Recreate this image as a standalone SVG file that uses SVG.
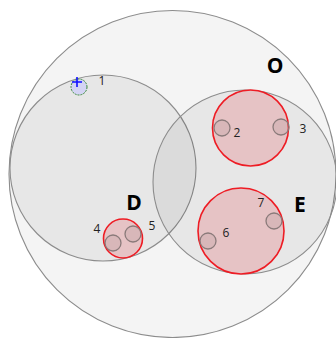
<svg xmlns="http://www.w3.org/2000/svg" width="336" height="338" viewBox="0 0 336 338">
<style>
.set{fill:#000;fill-opacity:0.05;stroke:#8c8c8c;stroke-width:1.1}
.outer{fill:#f4f4f4;stroke:#8c8c8c;stroke-width:1.1}
.red{fill:#e6c3c5;stroke:#ee1c24;stroke-width:1.6}
.sm{fill:#000;fill-opacity:0.06;stroke:#8a7a7a;stroke-width:1.3}
.num{font-family:"Open Sans","Liberation Sans",sans-serif;font-size:12px;fill:#222}
.big{font-family:"Open Sans","Liberation Sans",sans-serif;font-size:21px;font-weight:bold;fill:#000}
</style>
<rect width="336" height="338" fill="#fff"/>
<g id="O"><circle class="outer" cx="172.5" cy="174" r="163.5"/><text class="big" x="275" y="73" text-anchor="middle">O</text></g>
<g id="D"><circle class="set" cx="103" cy="168" r="93"/><text class="big" x="134" y="210" text-anchor="middle">D</text></g>
<g id="E"><circle class="set" cx="245" cy="182" r="92"/><text class="big" x="300" y="212" text-anchor="middle">E</text></g>
<g id="n1"><circle cx="79" cy="87" r="8" fill="#d4d4f4" stroke="#3a8a3a" stroke-width="1" stroke-dasharray="2,1"/><path d="M77 77v10M72 82h10" stroke="#1010ff" stroke-width="1.6"/><text class="num" x="102" y="85" text-anchor="middle">1</text></g>
<g id="r1"><circle class="red" cx="250.5" cy="128" r="38"/>
<circle class="sm" cx="222" cy="128" r="8"/><circle class="sm" cx="281" cy="127" r="8"/>
<text class="num" x="237" y="137" text-anchor="middle">2</text><text class="num" x="303" y="133" text-anchor="middle">3</text></g>
<g id="r2"><circle class="red" cx="241" cy="231" r="43"/>
<circle class="sm" cx="208" cy="241" r="8"/><circle class="sm" cx="274" cy="221" r="8"/>
<text class="num" x="226" y="237" text-anchor="middle">6</text><text class="num" x="261" y="207" text-anchor="middle">7</text></g>
<g id="r3"><circle class="red" cx="123" cy="238.5" r="19.5"/>
<circle class="sm" cx="113" cy="243" r="8"/><circle class="sm" cx="133" cy="234" r="8"/>
<text class="num" x="97" y="233" text-anchor="middle">4</text><text class="num" x="152" y="230" text-anchor="middle">5</text></g>
</svg>
